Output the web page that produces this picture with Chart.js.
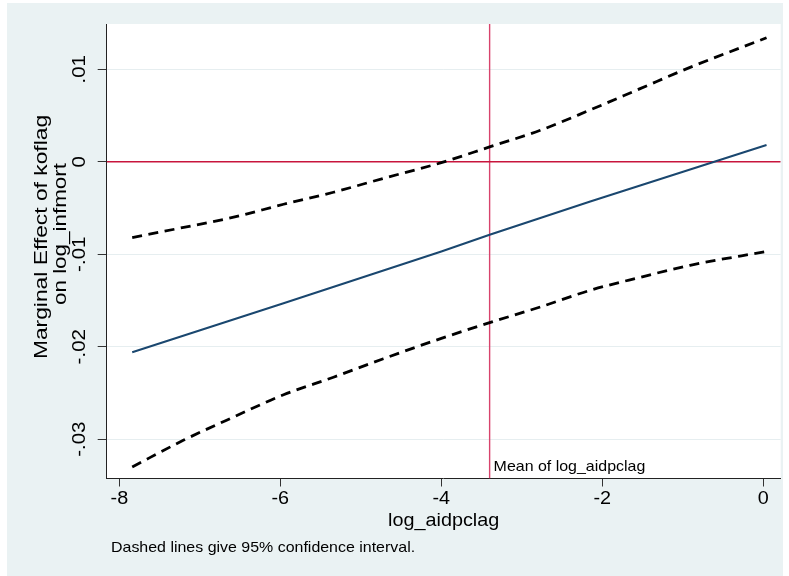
<!DOCTYPE html>
<html>
<head>
<meta charset="utf-8">
<script src="https://cdn.jsdelivr.net/npm/chart.js@4.4.0/dist/chart.umd.min.js"></script>
<style>
  html, body { margin: 0; padding: 0; background: #fff; }
  canvas { display: block; }
</style>
</head>
<body>
<canvas id="chart" width="789" height="576" style="width:789px;height:576px"></canvas>
<script>
// values
const aidX = [-7.84, -7.20, -6.58, -5.96, -5.34, -4.72, -4.00, -3.40, -2.77, -2.15, -1.53, -0.91, 0.04];
const upperCI = [-0.0082, -0.0071, -0.0060, -0.0046, -0.0033, -0.0018, -0.0001, 0.0016, 0.0034, 0.0056, 0.0079, 0.0102, 0.0134];
const lowerCI = [-0.0330, -0.0301, -0.0276, -0.0252, -0.0233, -0.0213, -0.0191, -0.0174, -0.0157, -0.0139, -0.0125, -0.0112, -0.0097];
const effX = [-7.84, -5.96, -4.00, -3.40, -2.15, 0.04];
const effY = [-0.0206, -0.0153, -0.0097, -0.0079, -0.0043, 0.0018];
const meanAid = -3.40;

const xTicks = [-8, -6, -4, -2, 0];
const xTickLabels = ["-8", "-6", "-4", "-2", "0"];
const yTicks = [-0.03, -0.02, -0.01, 0, 0.01];
const yTickLabels = ["-.03", "-.02", "-.01", "0", ".01"];

const xMin = -8.157, xMax = 0.216;
const yMin = -0.03425, yMax = 0.01489;

const FONT = '"Liberation Sans", Arial, Helvetica, sans-serif';

function pts(xs, ys) {
  return xs.map((x, i) => ({ x: x, y: ys[i] }));
}

// text a bit wider than Arial, like the Stata export
function wideText(ctx, txt, x, y, rot, stretch) {
  ctx.save();
  ctx.translate(x, y);
  if (rot) ctx.rotate(rot);
  ctx.scale(stretch, 1);
  ctx.fillText(txt, 0, 0);
  ctx.restore();
}

const stataText = {
  id: "stataText",
  beforeDraw(chart) {
    const ctx = chart.ctx;
    const a = chart.chartArea;
    ctx.save();
    ctx.fillStyle = "#eaf2f3";
    ctx.fillRect(7, 3, 776, 573);
    ctx.fillStyle = "#ffffff";
    ctx.fillRect(a.left, a.top, a.right - a.left, a.bottom - a.top);
    ctx.restore();
  },
  afterDraw(chart) {
    const ctx = chart.ctx;
    const xs = chart.scales.x;
    const ys = chart.scales.y;
    const a = chart.chartArea;
    const up = -Math.PI / 2;
    ctx.save();
    ctx.fillStyle = "#000";
    ctx.textAlign = "center";
    ctx.textBaseline = "middle";

    // y tick labels, rotated
    ctx.font = "18px " + FONT;
    yTicks.forEach((v, i) => {
      wideText(ctx, yTickLabels[i], 80, ys.getPixelForValue(v), up, 1.14);
    });

    // x tick labels
    ctx.font = "18px " + FONT;
    xTicks.forEach((v, i) => {
      wideText(ctx, xTickLabels[i], xs.getPixelForValue(v), 499, 0, 1.1);
    });

    // axis titles
    ctx.font = "18.5px " + FONT;
    wideText(ctx, "log_aidpclag", (a.left + a.right) / 2, 521, 0, 1.07);
    ctx.font = "19px " + FONT;
    wideText(ctx, "Marginal Effect of koflag", 42, 237, up, 1.2);
    wideText(ctx, "on log_infmort", 61, 234, up, 1.18);

    // mean label and note
    ctx.font = "14.5px " + FONT;
    ctx.textAlign = "left";
    wideText(ctx, "Mean of log_aidpclag", xs.getPixelForValue(meanAid) + 4, 467, 0, 1.1);
    wideText(ctx, "Dashed lines give 95% confidence interval.", 111, 548, 0, 1.1);
    ctx.restore();
  }
};

new Chart(document.getElementById("chart"), {
  type: "scatter",
  data: {
    datasets: [
      {
        label: "upper",
        data: pts(aidX, upperCI),
        showLine: true,
        borderColor: "#000",
        borderWidth: 2.8,
        borderDash: [10, 6.5],
        pointRadius: 0,
        cubicInterpolationMode: "monotone",
      },
      {
        label: "lower",
        data: pts(aidX, lowerCI),
        showLine: true,
        borderColor: "#000",
        borderWidth: 2.8,
        borderDash: [10, 6.5],
        pointRadius: 0,
        cubicInterpolationMode: "monotone",
      },
      {
        label: "effect",
        data: pts(effX, effY),
        showLine: true,
        borderColor: "#1a476f",
        borderWidth: 2,
        pointRadius: 0,
      },
      {
        label: "zero",
        data: [{ x: xMin, y: 0 }, { x: xMax, y: 0 }],
        showLine: true,
        borderColor: "#c8153c",
        borderWidth: 1.6,
        pointRadius: 0,
      },
      {
        label: "mean",
        data: [{ x: meanAid, y: yMin }, { x: meanAid, y: yMax }],
        showLine: true,
        borderColor: "#d8436c",
        borderWidth: 1.4,
        pointRadius: 0,
      },
    ],
  },
  options: {
    responsive: false,
    animation: false,
    devicePixelRatio: 1,
    layout: { padding: { left: 0, top: 24, right: 8.3, bottom: 0 } },
    plugins: { legend: { display: false }, tooltip: { enabled: false } },
    scales: {
      x: {
        type: "linear",
        min: xMin,
        max: xMax,
        afterFit: (s) => { s.height = 97.5; },
        afterBuildTicks: (s) => { s.ticks = xTicks.map((v) => ({ value: v })); },
        ticks: { display: false },
        grid: { drawOnChartArea: false, tickLength: 8, tickColor: "#333", tickWidth: 1 },
        border: { display: true, color: "#222", width: 1 },
      },
      y: {
        type: "linear",
        min: yMin,
        max: yMax,
        afterFit: (s) => { s.width = 106.7; },
        afterBuildTicks: (s) => { s.ticks = yTicks.map((v) => ({ value: v })); },
        ticks: { display: false },
        grid: { color: "#e6eef0", lineWidth: 1, tickLength: 9, tickColor: "#333", tickWidth: 1 },
        border: { display: true, color: "#222", width: 1 },
      },
    },
  },
  plugins: [stataText],
});
</script>
</body>
</html>
